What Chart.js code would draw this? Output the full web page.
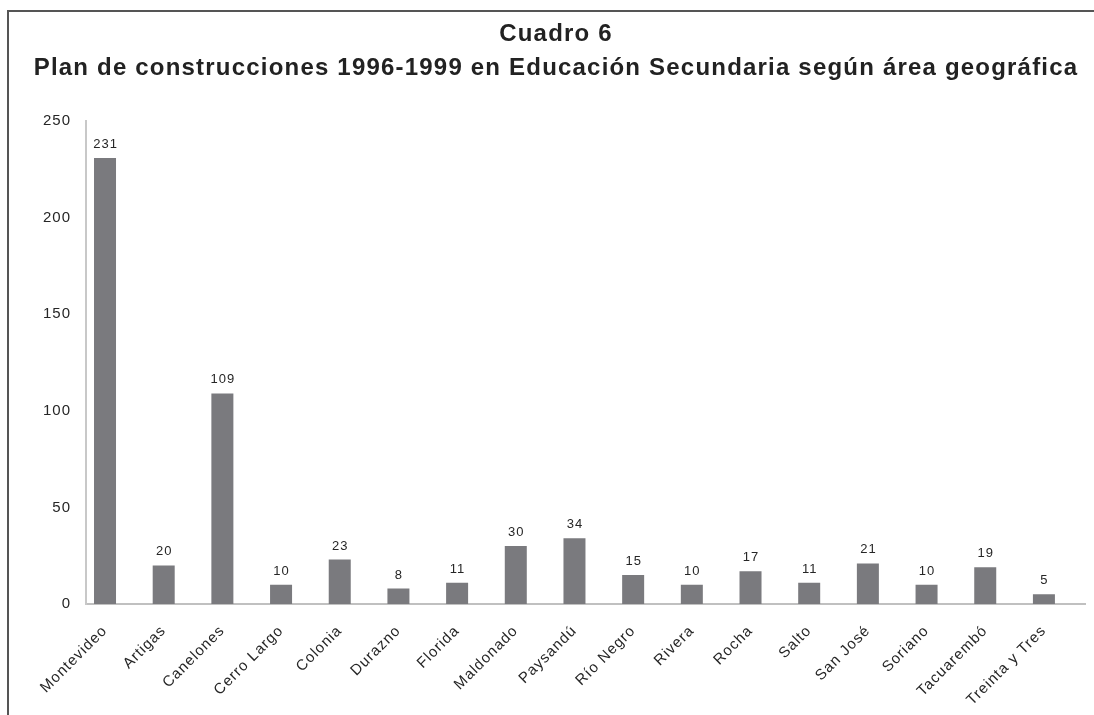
<!DOCTYPE html>
<html>
<head>
<meta charset="utf-8">
<script src="https://cdn.jsdelivr.net/npm/chart.js@4.4.1/dist/chart.umd.min.js"></script>
<style>
  html, body { margin: 0; padding: 0; background: #fff; overflow: hidden; }
  #wrap { position: absolute; left: 0; top: 0; width: 1094px; height: 715px; }
  #frame { position: absolute; left: 7px; top: 10px; width: 1200px; height: 800px; border: 2px solid #555; pointer-events: none; }
</style>
</head>
<body>
<div id="wrap">
  <canvas id="c" width="1094" height="715"></canvas>
</div>
<div id="frame"></div>
<script>
const titleLines = ['Cuadro 6', 'Plan de construcciones 1996-1999 en Educación Secundaria según área geográfica'];
const categories = ['Montevideo', 'Artigas', 'Canelones', 'Cerro Largo', 'Colonia', 'Durazno', 'Florida', 'Maldonado', 'Paysandú', 'Río Negro', 'Rivera', 'Rocha', 'Salto', 'San José', 'Soriano', 'Tacuarembó', 'Treinta y Tres'];
const values = [231, 20, 109, 10, 23, 8, 11, 30, 34, 15, 10, 17, 11, 21, 10, 19, 5];
const yTicks = [0, 50, 100, 150, 200, 250];

const FONT = '"Liberation Sans", Arial, sans-serif';
const points = categories.map((c, i) => ({ x: i, y: values[i] }));

const spacing = {
  id: 'spacing',
  afterInit(chart) {
    const t = chart.titleBlock;
    if (t && !t._wrapped) {
      const orig = t.draw.bind(t);
      t.draw = function () {
        const ctx = chart.ctx;
        const prev = ctx.letterSpacing;
        ctx.letterSpacing = '1.2px';
        orig();
        ctx.letterSpacing = prev;
      };
      t._wrapped = true;
    }
  },
  beforeLayout(chart) { chart.ctx.letterSpacing = '1px'; },
  beforeDraw(chart) { chart.ctx.letterSpacing = '1px'; }
};

const valueLabels = {
  id: 'valueLabels',
  afterDatasetsDraw(chart) {
    const ctx = chart.ctx;
    const meta = chart.getDatasetMeta(0);
    ctx.save();
    ctx.letterSpacing = '1px';
    ctx.font = '13px ' + FONT;
    ctx.fillStyle = '#262626';
    ctx.textAlign = 'center';
    ctx.textBaseline = 'alphabetic';
    meta.data.forEach((bar, i) => {
      ctx.fillText(String(values[i]), bar.x + 0.5, bar.y - 10);
    });
    ctx.restore();
  }
};

new Chart(document.getElementById('c'), {
  type: 'bar',
  data: {
    datasets: [{
      data: points,
      backgroundColor: '#7a7a7e',
      borderWidth: 0,
      barPercentage: 0.375,
      categoryPercentage: 1.0
    }]
  },
  options: {
    responsive: false,
    animation: false,
    events: [],
    layout: { padding: { left: 27, right: 9, top: 0, bottom: 0 } },
    plugins: {
      legend: { display: false },
      tooltip: { enabled: false },
      title: {
        display: true,
        text: titleLines,
        color: '#222',
        font: { family: FONT, size: 24, weight: 'bold', lineHeight: 1.4 },
        padding: { top: 18, bottom: 36 }
      }
    },
    scales: {
      x: {
        type: 'linear',
        offset: false,
        min: -0.324,
        max: 16.7,
        afterBuildTicks(s) { s.ticks = categories.map((c, i) => ({ value: i })); },
        grid: { display: false, drawTicks: false, offset: false },
        border: { display: true, color: '#c0c0c0', width: 2 },
        ticks: {
          color: '#262626',
          font: { family: FONT, size: 15 },
          maxRotation: 45,
          minRotation: 45,
          autoSkip: false,
          padding: 18,
          callback: (v) => categories[v]
        },
        afterFit(s) { s.height = 111; }
      },
      y: {
        min: 0,
        max: 250,
        afterBuildTicks(s) { s.ticks = yTicks.map(v => ({ value: v })); },
        grid: { display: false, drawTicks: false },
        border: { display: true, color: '#c8c8c8', width: 2 },
        ticks: {
          color: '#262626',
          font: { family: FONT, size: 15 },
          padding: 15
        },
        afterFit(s) { s.width = 59; }
      }
    }
  },
  plugins: [spacing, valueLabels]
});
</script>
</body>
</html>
